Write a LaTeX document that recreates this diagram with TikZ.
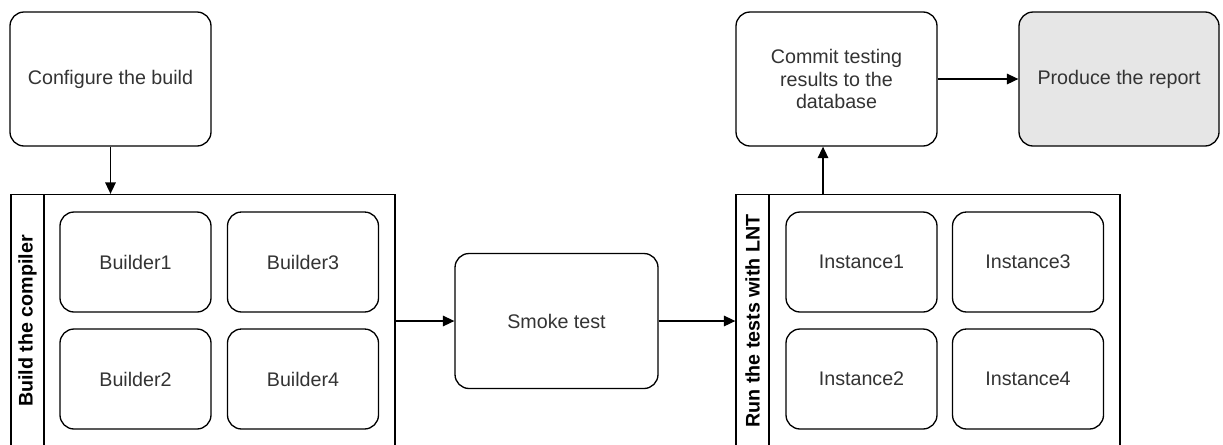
\documentclass[tikz,border=0pt]{standalone}
\usepackage{fontspec}
\setmainfont{Liberation Sans}
\usepackage{xcolor}
\usetikzlibrary{arrows.meta, positioning}
\definecolor{txtgray}{HTML}{333333}
\definecolor{donebg}{HTML}{E6E6E6}

\begin{document}
\begin{tikzpicture}[
    every node/.style={font=\fontsize{11.2}{12.8}\selectfont, text=txtgray},
    stage/.style={draw, rounded corners=8pt, line width=0.75pt, minimum width=4.02cm, minimum height=2.68cm, align=center},
    worker/.style={draw, rounded corners=8pt, line width=0.75pt, minimum width=3.02cm, minimum height=2.0cm},
    pool/.style={draw, line width=0.75pt, minimum width=7.68cm, minimum height=5.06cm},
    poolname/.style={draw, line width=0.75pt, rotate=90, minimum width=5.06cm, minimum height=0.66cm, font=\fontsize{11.2}{12.8}\selectfont\bfseries, text=black},
    flow/.style={line width=0.75pt, -{Triangle[length=6.5pt, width=6pt]}}
]
\useasboundingbox (0,0) rectangle (24.46,-8.88);
\clip (0,0) rectangle (24.46,-8.88);

% Top row
\node[stage] (configure) at (2.21, -1.58) {Configure the build};
\node[stage] (commit) at (16.73, -1.58) {Commit testing\\results to the\\database};
\node[stage, fill=donebg, minimum width=4.0cm] (report) at (22.38, -1.58) {Produce the report};

% Build pool
\node[pool] (build) at (4.06, -6.42) {};
\node[poolname] (buildname) at (0.55, -6.42) {Build the compiler};
\node[worker] (builder1) at (2.71, -5.24) {Builder1};
\node[worker] (builder2) at (2.71, -7.58) {Builder2};
\node[worker] (builder3) at (6.06, -5.24) {Builder3};
\node[worker] (builder4) at (6.06, -7.58) {Builder4};

% Smoke test
\node[stage, minimum width=4.06cm, minimum height=2.70cm] (smoke) at (11.13, -6.42) {Smoke test};

% LNT pool
\node[pool] (lnt) at (18.56, -6.42) {};
\node[poolname] (lntname) at (15.05, -6.42) {Run the tests with LNT};
\node[worker] (instance1) at (17.23, -5.24) {Instance1};
\node[worker] (instance2) at (17.23, -7.58) {Instance2};
\node[worker] (instance3) at (20.56, -5.24) {Instance3};
\node[worker] (instance4) at (20.56, -7.58) {Instance4};

% Connectors
\coordinate (lntout) at (16.46, -3.88);
\draw[flow] (configure.south) -- (configure.south |- build.north);
\draw[flow] (build) -- (smoke);
\draw[flow] (smoke) -- (lnt);
\draw[flow] (lntout) -- (lntout |- commit.south);
\draw[flow] (commit) -- (report);
\end{tikzpicture}
\end{document}
